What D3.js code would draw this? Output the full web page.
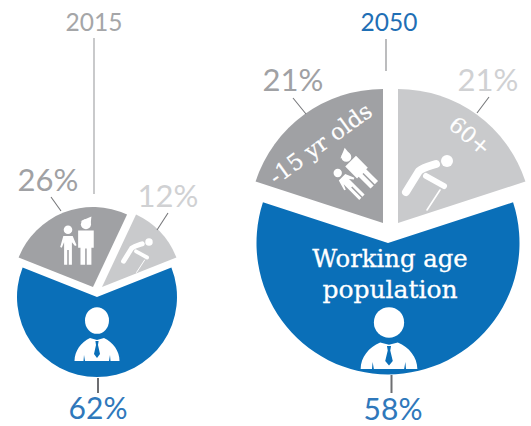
<!DOCTYPE html>
<html><head><meta charset="utf-8">
<script src="https://cdnjs.cloudflare.com/ajax/libs/d3/7.8.5/d3.min.js"></script>
<style>html,body{margin:0;background:#fff}svg{display:block}</style></head>
<body><svg id="c" width="531" height="426"></svg>
<script>
// Data
const groups = ["Working age population", "-15 yr olds", "60+"];
const years = ["2015", "2050"];
const labels2015 = ["62%", "26%", "12%"];
const labels2050 = ["58%", "21%", "21%"];
// Slice sweeps as drawn in the picture (the 2050 artwork is drawn slightly off its printed labels)
const sweep2015 = [62, 26, 12];
const sweep2050 = [60, 20, 20];
const colors = ["#0a6fb8", "#a0a1a4", "#c9cacc"];

const svg = d3.select("#c");
const FONT = "Lato, sans-serif", SERIF = "'DejaVu Serif', serif";

function drawPie(values, radii, apexes) {
  const start = Math.PI - Math.PI * values[0] / 100;
  const arcs = d3.pie().sort(null).startAngle(start).endAngle(start + 2 * Math.PI)(values);
  svg.append("g").selectAll("path").data(arcs).join("path")
    .attr("d", (d, i) => d3.arc().innerRadius(0).outerRadius(radii[i])(d))
    .attr("transform", (d, i) => `translate(${apexes[i]})`)
    .attr("fill", (d, i) => colors[i]);
}
drawPie(sweep2015, [80, 80, 80], [[97, 297], [93, 287], [102, 287]]);
drawPie(sweep2050, [131.5, 134, 134], [[388, 243], [383, 223], [398, 223]]);

// Leader lines
const leaders = [
  [94, 38, 94, 194, "#a5a6a8", 1.2], [386, 39, 386, 71, "#8f9093", 1.2],
  [51, 197, 61, 211, "#77787b", 1.1], [168, 213, 157, 230, "#77787b", 1.1],
  [293, 98, 306, 114, "#77787b", 1.1], [489, 97, 477, 113, "#77787b", 1.1],
  [98, 378, 98, 393, "#6d6e71", 2], [391.5, 375, 391.5, 393, "#6d6e71", 2]
];
svg.append("g").selectAll("line").data(leaders).join("line")
  .attr("x1", d => d[0]).attr("y1", d => d[1]).attr("x2", d => d[2]).attr("y2", d => d[3])
  .attr("stroke", d => d[4]).attr("stroke-width", d => d[5]);

// Text
function txt(s, x, y, size, fill, fam, rot, stroke) {
  const t = svg.append("text").text(s).attr("text-anchor", "middle")
    .attr("font-family", fam || FONT).attr("font-size", size).attr("fill", fill)
    .attr("transform", `translate(${x},${y})` + (rot ? ` rotate(${rot})` : ""));
  if (stroke) t.attr("stroke", fill).attr("stroke-width", stroke);
}
txt(years[0], 94, 31, 24.5, "#a5a6a8");
txt(years[1], 389, 31, 24.5, "#1f6fb5");
txt(labels2015[1], 48, 191, 31, "#a0a1a4");
txt(labels2015[2], 168, 207, 31, "#d0d1d3");
txt(labels2015[0], 98, 419, 30, "#2f78bb");
txt(labels2050[1], 293, 91, 31, "#a0a1a4");
txt(labels2050[2], 488, 91, 31, "#d0d1d3");
txt(labels2050[0], 393, 419.5, 30, "#2f78bb");
txt("Working age", 390, 267, 24.3, "#fff", SERIF, 0, 0.3);
txt("population", 390, 298, 25, "#fff", SERIF, 0, 0.3);
txt(groups[1], 325, 150, 22.5, "#fff", SERIF, -36, 0.2);
txt(groups[2], 465, 142, 22, "#fff", SERIF, 40, 0.2);

// Icons (local coordinates)
function worker(x, y, kx, ky) {
  const g = svg.append("g").attr("transform", `translate(${x},${y}) scale(${kx},${ky})`);
  g.append("ellipse").attr("cx", 0).attr("cy", -40.5).attr("rx", 12).attr("ry", 13.3).attr("fill", "#fff");
  g.append("path").attr("fill", "#fff")
    .attr("d", "M-22.5,0C-22.5,-10 -16,-19 -7,-23L0,-21L7,-23C16,-19 22.5,-10 22.5,0L13.5,0L13,-6L12,0L-12,0L-13,-6L-13.5,0Z");
  g.append("path").attr("fill", colors[0]).attr("d", "M-1.6,-20L1.6,-20L1,-16L3,-7L0,-3L-3,-7L-1,-16Z");
}
worker(97, 361, 1, 1);
worker(389, 369, 1.26, 1.15);

function family(x, y, k, rot) {
  const g = svg.append("g").attr("transform", `translate(${x},${y}) rotate(${rot}) scale(${k})`).attr("fill", "#fff");
  // adult
  g.append("circle").attr("cx", 23).attr("cy", -33).attr("r", 6.5);
  g.append("path").attr("d", "M16,-37L30,-43L29,-33Z");
  g.append("path").attr("d", "M13,-25L33,-25L33,-3L30,-3L30,19L24,19L24,-2L22,-2L22,19L16,19L16,-3L13,-3Z");
  // child
  g.append("circle").attr("cx", 0).attr("cy", -26).attr("r", 5.5);
  g.append("path").attr("d", "M-6,-18L6,-18L11,-6L9,-5L5,-10L5,19L1,19L1,0L-1,0L-1,19L-5,19L-5,-10L-8,-3L-10,-4Z");
}
family(68, 250, 0.78, 0);
family(351.7, 187, 0.76, -45);

function elder(x, y, k) {
  const g = svg.append("g").attr("transform", `translate(${x},${y}) scale(${k})`)
    .attr("fill", "none").attr("stroke", "#fff").attr("stroke-linecap", "round").attr("stroke-linejoin", "round");
  g.append("circle").attr("cx", 0).attr("cy", 0).attr("r", 6).attr("fill", "#fff").attr("stroke", "none");
  g.append("path").attr("stroke-width", 8).attr("d", "M-11,3C-17,5 -23,6 -28,10L-41,31");
  g.append("path").attr("stroke-width", 6).attr("d", "M-21,15L-3,25");
  g.append("path").attr("stroke-width", 1.6).attr("d", "M-7,29L-20,49");
}
elder(149, 242, 0.62);
elder(447, 161, 1);
</script></body></html>
